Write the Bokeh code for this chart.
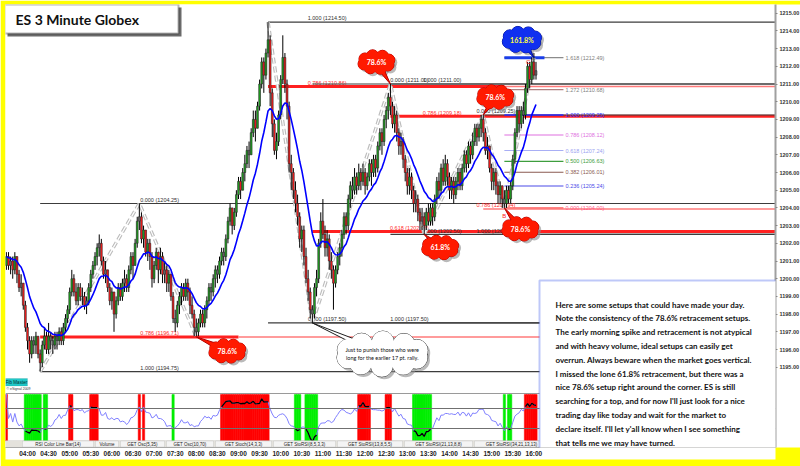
import numpy as np
from bokeh.plotting import figure
from bokeh.models import (Range1d, LinearAxis, FixedTicker, NumeralTickFormatter,
                          Label, BoxAnnotation, Span)
from bokeh.core.properties import value
from bokeh.embed import file_html
from bokeh.resources import INLINE

# ------------------------------------------------------------------ data
# ES 3-minute bars, 03:30 .. 16:03 (bar 0 = 03:30); open = previous close
first_open = 1200.75
closes = [
    1201.25, 1200.75, 1201.0, 1200.5, 1201.25, 1200.25, 1199.5, 1199.75, 1198.5, 1197.25,
    1196.5, 1195.75, 1196.5, 1196.25, 1196.75, 1195.75, 1195.25, 1196.25, 1196.75, 1196.0,
    1196.75, 1196.5, 1196.25, 1196.75, 1196.5, 1197.0, 1196.5, 1197.25, 1197.75, 1198.25,
    1199.25, 1200.0, 1199.25, 1198.75, 1199.5, 1199.0, 1199.0, 1198.5, 1198.75, 1199.5,
    1200.25, 1200.75, 1201.25, 1201.75, 1202.0, 1201.0, 1200.25, 1200.5, 1199.5, 1198.75,
    1199.25, 1198.0, 1198.75, 1199.5, 1199.0, 1199.75, 1200.0, 1199.5, 1200.5, 1201.25,
    1200.75, 1202.0, 1203.25, 1203.5, 1202.25, 1202.75, 1201.5, 1202.0, 1201.25, 1200.0,
    1200.75, 1201.5, 1200.5, 1201.25, 1200.25, 1200.5, 1199.75, 1200.25, 1199.0, 1197.75,
    1197.5, 1198.5, 1199.0, 1199.5, 1199.0, 1199.75, 1199.25, 1198.5, 1198.0, 1197.25,
    1197.0, 1197.5, 1198.0, 1197.5, 1198.25, 1198.75, 1199.5, 1199.25, 1200.0, 1200.5,
    1200.25, 1201.0, 1201.5, 1201.25, 1202.25, 1203.25, 1204.0, 1203.0, 1203.75, 1204.75,
    1205.5, 1205.0, 1206.0, 1206.5, 1207.25, 1207.0, 1208.25, 1209.0, 1208.5, 1209.75,
    1211.0, 1212.25, 1211.5, 1212.75, 1213.5, 1210.5, 1208.75, 1207.25, 1207.75, 1209.25,
    1211.25, 1212.5, 1211.0, 1209.75, 1206.5, 1206.0, 1205.0, 1204.25, 1203.5, 1202.25,
    1202.75, 1201.25, 1200.0, 1199.25, 1198.25, 1198.0, 1199.5, 1200.0, 1202.0, 1203.25,
    1202.5, 1201.75, 1202.25, 1201.0, 1200.5, 1199.75, 1200.5, 1201.25, 1201.75, 1202.5,
    1203.5, 1203.0, 1204.5, 1205.25, 1205.0, 1205.75, 1205.25, 1206.0, 1205.5, 1206.0,
    1205.25, 1205.75, 1206.5, 1206.0, 1206.75, 1206.25, 1207.5, 1208.25, 1207.75, 1209.0,
    1209.5, 1210.25, 1209.75, 1208.75, 1209.25, 1208.25, 1207.5, 1207.75, 1206.75, 1206.0,
    1205.25, 1205.75, 1205.0, 1204.25, 1204.5, 1203.75, 1203.25, 1203.5, 1203.0, 1203.75,
    1203.25, 1204.0, 1203.5, 1204.5, 1205.5, 1205.0, 1206.25, 1205.5, 1206.5, 1205.75,
    1205.0, 1205.5, 1204.75, 1205.5, 1206.0, 1205.25, 1206.25, 1207.0, 1206.5, 1207.5,
    1207.0, 1207.75, 1208.5, 1208.0, 1208.5, 1209.0, 1208.25, 1207.25, 1207.5, 1206.25,
    1205.5, 1206.0, 1205.25, 1204.75, 1205.25, 1204.5, 1204.25, 1205.0, 1204.5, 1205.25,
    1206.75, 1208.25, 1209.5, 1208.75, 1209.5, 1209.25, 1210.75, 1212.0, 1211.25, 1212.25,
    1211.5, 1211.75,
]
highs = [
    1201.5, 1201.5, 1201.25, 1201.25, 1201.5, 1201.25, 1200.5, 1200.25, 1199.75, 1198.75,
    1197.5, 1196.75, 1196.75, 1196.75, 1197.0, 1196.75, 1196.0, 1196.5, 1197.25, 1197.0,
    1197.5, 1197.0, 1196.75, 1197.0, 1197.0, 1197.25, 1197.25, 1197.5, 1198.0, 1198.5,
    1199.5, 1200.5, 1200.25, 1199.75, 1199.75, 1199.75, 1199.5, 1199.25, 1199.0, 1199.75,
    1200.5, 1201.0, 1201.5, 1202.0, 1202.5, 1202.25, 1201.25, 1201.0, 1200.5, 1199.75,
    1199.5, 1199.25, 1199.0, 1199.75, 1199.75, 1200.0, 1200.5, 1200.25, 1200.75, 1201.5,
    1201.5, 1202.25, 1203.5, 1204.25, 1203.75, 1203.0, 1202.75, 1202.25, 1202.25, 1201.5,
    1201.0, 1201.75, 1201.5, 1201.75, 1201.5, 1201.0, 1200.75, 1200.5, 1200.25, 1199.25,
    1198.25, 1198.75, 1199.25, 1199.75, 1199.75, 1200.0, 1200.0, 1199.5, 1199.0, 1198.25,
    1197.75, 1197.75, 1198.25, 1198.25, 1198.5, 1199.0, 1199.75, 1199.75, 1200.25, 1200.75,
    1200.75, 1201.25, 1201.75, 1201.75, 1202.5, 1203.5, 1204.25, 1204.0, 1204.0, 1205.0,
    1205.75, 1205.75, 1206.25, 1207.0, 1207.5, 1207.75, 1208.5, 1209.5, 1209.5, 1210.0,
    1211.25, 1212.5, 1212.5, 1213.0, 1214.5, 1213.75, 1210.75, 1209.0, 1208.25, 1209.5,
    1211.5, 1213.75, 1212.75, 1211.25, 1210.0, 1207.0, 1206.25, 1205.5, 1204.75, 1203.75,
    1203.0, 1203.0, 1201.75, 1200.5, 1199.5, 1198.5, 1199.75, 1200.5, 1202.25, 1203.75,
    1204.5, 1203.0, 1202.75, 1202.5, 1201.5, 1200.75, 1200.75, 1201.5, 1202.0, 1202.75,
    1203.75, 1203.75, 1204.75, 1205.5, 1205.75, 1206.25, 1206.0, 1206.5, 1206.25, 1206.5,
    1206.25, 1206.0, 1206.75, 1206.75, 1207.0, 1207.0, 1207.75, 1208.5, 1208.5, 1209.25,
    1209.75, 1210.5, 1211.0, 1210.0, 1209.75, 1209.5, 1208.5, 1208.25, 1208.0, 1207.0,
    1206.25, 1206.25, 1206.0, 1205.25, 1205.0, 1204.75, 1204.0, 1204.0, 1203.75, 1204.0,
    1204.25, 1204.25, 1204.25, 1204.75, 1205.75, 1206.0, 1206.5, 1206.75, 1207.0, 1206.75,
    1206.0, 1205.75, 1205.75, 1205.75, 1206.25, 1206.25, 1206.5, 1207.25, 1207.25, 1207.75,
    1207.75, 1208.25, 1208.75, 1208.75, 1208.75, 1209.25, 1209.25, 1208.5, 1208.0, 1207.5,
    1206.5, 1206.25, 1206.25, 1205.5, 1205.5, 1205.25, 1205.0, 1205.25, 1205.25, 1205.5,
    1207.0, 1208.5, 1209.75, 1209.75, 1209.75, 1210.0, 1211.0, 1212.25, 1212.25, 1212.5,
    1212.75, 1212.25,
]
lows = [
    1200.5, 1200.5, 1200.25, 1200.0, 1200.25, 1199.75, 1199.25, 1199.0, 1198.25, 1197.0,
    1196.0, 1195.25, 1195.5, 1195.75, 1195.75, 1195.5, 1194.75, 1195.0, 1196.0, 1195.75,
    1195.75, 1196.0, 1195.75, 1196.0, 1196.0, 1196.25, 1196.25, 1196.25, 1197.0, 1197.5,
    1198.0, 1199.0, 1199.0, 1198.5, 1198.5, 1198.75, 1198.5, 1198.25, 1198.0, 1198.5,
    1199.25, 1200.0, 1200.5, 1200.75, 1201.25, 1200.75, 1200.0, 1199.75, 1199.25, 1198.5,
    1198.25, 1197.0, 1197.75, 1198.5, 1198.75, 1198.75, 1199.25, 1199.25, 1199.25, 1200.25,
    1200.0, 1200.75, 1201.75, 1202.75, 1202.0, 1201.75, 1201.25, 1201.0, 1200.5, 1199.5,
    1199.75, 1200.5, 1199.75, 1200.25, 1199.75, 1199.75, 1199.25, 1199.25, 1198.75, 1197.5,
    1197.0, 1197.25, 1198.0, 1198.5, 1198.75, 1198.75, 1198.75, 1198.0, 1197.75, 1196.75,
    1196.75, 1196.75, 1197.25, 1197.25, 1197.25, 1197.75, 1198.5, 1198.75, 1199.0, 1199.5,
    1199.75, 1200.0, 1200.75, 1200.75, 1201.0, 1202.0, 1203.0, 1202.5, 1202.75, 1203.5,
    1204.5, 1204.5, 1205.0, 1205.5, 1206.25, 1206.25, 1207.0, 1208.0, 1207.75, 1208.5,
    1209.5, 1210.75, 1210.5, 1211.25, 1212.5, 1209.75, 1208.0, 1207.0, 1206.75, 1207.5,
    1209.0, 1211.0, 1210.5, 1209.0, 1206.0, 1205.0, 1204.5, 1203.75, 1203.0, 1201.75,
    1201.5, 1200.75, 1199.75, 1198.75, 1197.75, 1197.5, 1197.75, 1199.0, 1199.75, 1201.75,
    1202.25, 1201.25, 1201.25, 1200.5, 1200.0, 1198.25, 1199.5, 1200.25, 1200.75, 1201.25,
    1202.25, 1202.5, 1202.75, 1204.0, 1204.5, 1204.75, 1204.75, 1205.0, 1205.0, 1205.25,
    1204.75, 1205.0, 1205.5, 1205.25, 1205.75, 1205.75, 1206.0, 1207.25, 1207.0, 1207.5,
    1208.5, 1209.0, 1209.25, 1208.5, 1208.25, 1207.75, 1207.0, 1207.0, 1206.25, 1205.5,
    1204.75, 1204.75, 1204.5, 1203.75, 1203.75, 1203.25, 1202.75, 1202.75, 1202.5, 1202.75,
    1203.0, 1203.0, 1203.0, 1203.25, 1204.25, 1204.5, 1204.75, 1205.25, 1205.25, 1205.25,
    1204.5, 1204.5, 1204.25, 1204.5, 1205.0, 1205.0, 1205.0, 1206.0, 1206.0, 1206.25,
    1206.5, 1206.75, 1207.5, 1207.5, 1207.75, 1208.0, 1207.75, 1207.0, 1206.75, 1206.0,
    1205.0, 1205.0, 1204.75, 1204.25, 1204.25, 1204.0, 1204.0, 1204.0, 1204.25, 1204.25,
    1205.0, 1206.5, 1208.0, 1208.25, 1208.5, 1208.75, 1209.0, 1210.5, 1210.75, 1211.0,
    1211.25, 1211.25,
]
assert len(closes) == len(highs) == len(lows) == 252

time_ticks = [10, 20, 30, 40, 50, 60, 70, 80, 90, 100, 110, 120, 130,
              140, 150, 160, 170, 180, 190, 200, 210, 220, 230, 240, 250]
time_labels = ["04:00", "04:30", "05:00", "05:30", "06:00", "06:30", "07:00",
               "07:30", "08:00", "08:30", "09:00", "09:30", "10:00", "10:30",
               "11:00", "11:30", "12:00", "12:30", "13:00", "13:30", "14:00",
               "14:30", "15:00", "15:30", "16:00"]
price_ticks = [1195, 1196, 1197, 1198, 1199, 1200, 1201, 1202, 1203, 1204,
               1205, 1206, 1207, 1208, 1209, 1210, 1211, 1212, 1213, 1214, 1215]

# swing points joined by the pattern lines (bar, price)
swing_a_bars = [16, 63, 90]
swing_a_prices = [1194.75, 1204.25, 1196.71]
swing_b_bars = [124, 145, 182, 198, 226, 236, 250]
swing_b_prices = [1214.50, 1197.50, 1211.00, 1202.50, 1209.25, 1204.00, 1212.49]

# retracement tools: start bar and (ratio, price) levels
fib1_start, fib1_levels = 16, [(0.000, 1204.25), (0.786, 1196.71), (1.000, 1194.75)]
fib2_start, fib2_levels = 124, [(1.000, 1214.50), (0.786, 1210.86), (0.000, 1197.50)]
fib3_start, fib3_levels = 145, [(0.000, 1211.00), (0.618, 1202.66), (1.000, 1197.50)]
fib4_start, fib4_levels = 182, [(1.000, 1211.00), (0.786, 1209.18), (0.000, 1202.50)]
fib5_start, fib5_levels = 226, [(0.000, 1209.25), (0.786, 1203.94), (1.000, 1202.50)]
# extension of the 1204.00 -> 1209.25 swing
ext_start, ext_end = 236, 264
ext_levels = [(1.618, 1212.49), (1.272, 1210.68), (1.000, 1209.25), (0.786, 1208.12),
              (0.618, 1207.24), (0.500, 1206.63), (0.382, 1206.01), (0.236, 1205.24),
              (0.000, 1204.00)]

aux_marker = 1203.75

note_lines = [
    "Here are some setups that could have made your day.",
    "Note the consistency of the 78.6% retracement setups.",
    "The early morning spike and retracement is not atypical",
    "and with heavy volume, ideal setups can easily get",
    "overrun. Always beware when the market goes vertical.",
    "I missed the lone 61.8% retracement, but there was a",
    "nice 78.6% setup right around the corner. ES is still",
    "searching for a top, and for now I'll just look for a nice",
    "trading day like today and wait for the market to",
    "declare itself. I'll let y'all know when I see something",
    "that tells me we may have turned.",
]
tab_names = ["RSI Color Line Bar(14)", "Volume", "GET Osc(5,35)", "GET Osc(10,70)",
             "GET Stoch(14,3,3)", "GET StoRSI(8,5,3,3)", "GET StoRSI(13,8,5,5)",
             "GET StoRSI(21,13,8,8)", "GET StoRSI(34,21,13,13)"]

# ------------------------------------------------------------------ indicators
c = np.array(closes)
o = np.array([first_open] + closes[:-1])
h = np.maximum(np.array(highs), np.maximum(o, c))
l = np.minimum(np.array(lows), np.minimum(o, c))
idx = np.arange(len(c))

# 14-bar exponential average of the closes
ema = np.empty_like(c)
alpha = 2.0 / 15.0
ema[0] = c[0]
for i in range(1, len(c)):
    ema[i] = ema[i - 1] + alpha * (c[i] - ema[i - 1])

# 14-bar RSI on simple sums of gains and losses
d = np.diff(c, prepend=first_open)
gain, loss = np.clip(d, 0, None), np.clip(-d, 0, None)
rsi = np.empty_like(c)
for i in range(len(c)):
    lo_i = max(0, i - 13)
    g, s = gain[lo_i:i + 1].sum(), loss[lo_i:i + 1].sum()
    rsi[i] = 50.0 if g + s == 0 else 100.0 * g / (g + s)

# ------------------------------------------------------------------ layout
FRAME_L, FRAME_T, FRAME_W, FRAME_H = 5, 4, 770, 443
BAR_PX, FIRST_BAR_PX = 2.11, 5.9
PRICE_PX, PRICE_REF, PRICE_REF_PX = 17.7, 1215.0, 12.7
RSI_PX, RSI_REF, RSI_REF_PX = 0.5, 70.0, 408.0

x_lo = -(FIRST_BAR_PX - FRAME_L) / BAR_PX
x_hi = x_lo + FRAME_W / BAR_PX
p_hi = PRICE_REF + (PRICE_REF_PX - FRAME_T) / PRICE_PX
p_lo = p_hi - FRAME_H / PRICE_PX
r_hi = RSI_REF + (RSI_REF_PX - FRAME_T) / RSI_PX
r_lo = r_hi - FRAME_H / RSI_PX


def sx(px):
    return x_lo + (px - FRAME_L) / BAR_PX


def sy(py):
    return p_hi - (py - FRAME_T) / PRICE_PX


p = figure(frame_width=FRAME_W, frame_height=FRAME_H,
           x_range=Range1d(x_lo, x_hi), y_range=Range1d(p_lo, p_hi),
           x_axis_location=None, y_axis_location=None,
           output_backend="svg", toolbar_location=None,
           min_border_left=FRAME_L, min_border_top=FRAME_T,
           min_border_right=25, min_border_bottom=19)
p.extra_y_ranges = {"rsi": Range1d(r_lo, r_hi)}
p.background_fill_color = "white"
p.border_fill_color = "#ffff00"
p.outline_line_color = None
p.grid.visible = False

# axes
yax = LinearAxis(ticker=FixedTicker(ticks=price_ticks),
                 formatter=NumeralTickFormatter(format="0.00"))
yax.major_label_text_font = "Liberation Sans"
yax.major_label_text_font_size = "5.5px"
yax.major_label_text_font_style = "bold"
yax.major_label_text_color = "#333333"
yax.major_label_standoff = 2
yax.major_tick_out = 2
yax.major_tick_in = 0
yax.minor_tick_out = 0
yax.major_tick_line_color = "#888888"
yax.axis_line_color = "#a0a0a0"
yax.axis_line_width = 2
yax.background_fill_color = "white"
p.add_layout(yax, "right")

xax = LinearAxis(ticker=FixedTicker(ticks=time_ticks),
                 major_label_overrides={t: s for t, s in zip(time_ticks, time_labels)})
xax.major_label_text_font = "Liberation Sans"
xax.major_label_text_font_size = "6.5px"
xax.major_label_text_font_style = "bold"
xax.major_label_text_color = "#222222"
xax.major_label_standoff = 2
xax.major_tick_out = 0
xax.major_tick_in = 0
xax.minor_tick_out = 0
xax.axis_line_color = "#9a9a9a"
xax.background_fill_color = "white"
p.add_layout(xax, "below")

# ------------------------------------------------------------------ fib tools
FONT_SMALL = value("Liberation Sans")
GREY_LINE, RED_THICK, RED_THIN = "#3c3c3c", "#ff2020", "#ff7a7a"


def fib_text(ratio, price):
    return f"{ratio:.3f} ({price:.2f})"


def draw_tool(start, levels, label_bar, thick_until=None, red_thick=True):
    for ratio, price in levels:
        red = ratio in (0.618, 0.786)
        if red:
            if red_thick:
                stop = x_hi if thick_until is None else thick_until
                p.segment([start], [price], [stop], [price], line_color=RED_THICK,
                          line_width=3)
                if thick_until is not None:
                    p.segment([thick_until], [price], [x_hi], [price],
                              line_color=RED_THIN, line_width=1.5)
            else:
                p.segment([start], [price], [x_hi], [price], line_color=RED_THIN,
                          line_width=1.5)
        else:
            p.segment([start], [price], [x_hi], [price], line_color=GREY_LINE,
                      line_width=1.2)
        p.text([label_bar], [price + 0.6 / PRICE_PX], text=[fib_text(ratio, price)],
               text_font=FONT_SMALL, text_font_size="5.5px",
               text_color="#ff2a2a" if red else "#303030",
               text_align="center", text_baseline="bottom")


draw_tool(fib1_start, fib1_levels, 72.6, thick_until=110)
draw_tool(fib2_start, fib2_levels, 152, thick_until=236)
draw_tool(fib3_start, fib3_levels, 191)
draw_tool(fib4_start, fib4_levels, 206.5)
draw_tool(fib5_start, fib5_levels, 232, red_thick=False)

ext_colors = ["#8c8c8c", "#b08080", "#2a2aff", "#e070e0", "#a8aef5",
              "#3e9e3e", "#8a5a50", "#4a4ae8", "#ff5a5a"]
ext_text_colors = ["#808080", "#808080", "#2a2aff", "#e070e0", "#9aa2f0",
                   "#3e9e3e", "#8a5a50", "#4a4ae8", "#ff5a8a"]
for (ratio, price), lc, tc in zip(ext_levels, ext_colors, ext_text_colors):
    p.segment([ext_start], [price], [ext_end], [price], line_color=lc,
              line_width=1.5 if ratio == 1.0 else 1.1)
    p.text([ext_end + 1], [price], text=[fib_text(ratio, price)], text_font=FONT_SMALL,
           text_font_size="5.5px", text_color=tc, text_align="left",
           text_baseline="middle")
# highlighted 161.8% target
p.segment([ext_start], [ext_levels[0][1]], [255], [ext_levels[0][1]],
          line_color="#1a3ee8", line_width=3)

# ------------------------------------------------------------------ pattern lines
for bx, by in ((swing_a_bars, swing_a_prices), (swing_b_bars, swing_b_prices)):
    p.line(bx, by, line_color="#bcbcbc", line_width=3.5, line_dash="6 3")
    p.line(bx, by, line_color="white", line_width=1.2, line_dash="6 3")

# ------------------------------------------------------------------ candles
green, red, grey = "#1fa51f", "#ff1a1a", "#6e6e6e"
colors = np.where(c - o > 0.25, green, np.where(o - c > 0.25, red, grey))
p.segment(idx, l, idx, h, line_color="black", line_width=1)
p.vbar(x=idx, width=0.85, top=np.maximum(o, c), bottom=np.minimum(o, c),
       fill_color=colors, line_color="#262626", line_width=0.6)
p.line(idx, ema, line_color="#0000ff", line_width=1.6)

p.text([236], [1204.0 - 5 / PRICE_PX], text=["B"], text_font=FONT_SMALL,
       text_font_size="6px", text_color="#ff2020", text_align="center",
       text_baseline="top")
p.text([247.3], [1212.0 + 1 / PRICE_PX], text=["C"], text_font=FONT_SMALL,
       text_font_size="6px", text_color="#ff2020", text_align="center",
       text_baseline="bottom")

# ------------------------------------------------------------------ callouts


def callout(tip_x, tip_y, off_x, off_y, w, hgt, n, fill, edge, lines, text_color,
            font_px, bold=True):
    cx = tip_x + off_x / BAR_PX
    cy = tip_y - off_y / PRICE_PX
    ang = np.linspace(0, 2 * np.pi, n, endpoint=False) + 0.3
    ex = np.concatenate([[cx], cx + np.cos(ang) * w * 0.36 / BAR_PX])
    ey = np.concatenate([[cy], cy + np.sin(ang) * hgt * 0.27 / PRICE_PX])
    dd = hgt * 0.5
    ew = [w * 0.75] + [dd] * n
    eh = [hgt * 0.62] + [dd] * n
    p.ellipse(ex + 2.5 / BAR_PX, ey - 2.5 / PRICE_PX, width=ew, height=eh,
              width_units="screen", height_units="screen",
              fill_color="#8c8c8c", fill_alpha=0.6, line_color=None)
    p.ellipse(ex, ey, width=ew, height=eh, width_units="screen", height_units="screen",
              fill_color=fill, line_color=edge, line_width=1)
    ln = np.hypot(off_x, off_y)
    nx, ny = -off_y / ln, off_x / ln
    pts = [(0.0, 0.0), (off_x + nx * 4, off_y + ny * 4), (off_x - nx * 4, off_y - ny * 4)]
    p.patch([tip_x + a / BAR_PX for a, _ in pts], [tip_y - b / PRICE_PX for _, b in pts],
            fill_color=fill, line_color=edge, line_width=1)
    p.ellipse(ex, ey, width=ew, height=eh, width_units="screen", height_units="screen",
              fill_color=fill, line_color=None)
    k = len(lines)
    for j, txt in enumerate(lines):
        dy = (j - (k - 1) / 2) * (font_px + 3)
        p.text([cx], [cy - dy / PRICE_PX], text=[txt], text_font=value("Lato"),
               text_font_size=f"{font_px}px", text_font_style="bold" if bold else "normal",
               text_color=text_color, text_align="center", text_baseline="middle")


RED_FILL, RED_EDGE = "#ff1a00", "#b00000"
callout(90, 1196.71, 31, 14, 36, 24, 8, RED_FILL, RED_EDGE, ["78.6%"], "white", 7)
callout(182, 1211.00, -14, -22, 36, 24, 8, RED_FILL, RED_EDGE, ["78.6%"], "white", 7)
callout(226, 1209.25, 12, -18, 36, 24, 8, RED_FILL, RED_EDGE, ["78.6%"], "white", 7)
callout(198, 1202.50, 16, 13, 36, 24, 8, RED_FILL, RED_EDGE, ["61.8%"], "white", 7)
callout(236, 1204.00, 16, 21, 36, 24, 8, RED_FILL, RED_EDGE, ["78.6%"], "white", 7)
callout(250, 1212.49, -12, -18, 38, 26, 8, "#1030f0", "#001090", ["161.8%"], "#ffff40", 7)
callout(145, 1197.50, 70, 31, 100, 44, 10, "white", "#202020",
        ["Just to punish those who were", "long for the earlier 17 pt. rally."],
        "#111111", 5.5, bold=False)

# ------------------------------------------------------------------ RSI panel
for lvl, col in ((100, "#9a9a9a"), (70, "#707070"), (30, "#707070")):
    p.add_layout(Span(location=lvl, dimension="width", y_range_name="rsi",
                      line_color=col, line_width=1))
hot = rsi > 70
cold = rsi < 30
p.vbar(x=idx[hot], width=1.08, top=98, bottom=5, fill_color="#ff0000",
       line_color="#ff0000", line_width=0.5, y_range_name="rsi")
p.vbar(x=idx[cold], width=1.08, top=98, bottom=5, fill_color="#00ee00",
       line_color="#00ee00", line_width=0.5, y_range_name="rsi")
p.line(idx, rsi, line_color="#7f7fff", line_width=1, y_range_name="rsi")
p.line(idx, np.where(hot | cold, rsi, np.nan), line_color="black", line_width=1.3,
       y_range_name="rsi")

# tab strip under the indicator pane
p.add_layout(BoxAnnotation(left=sx(5), right=sx(775), top=sy(440), bottom=sy(447),
                           fill_color="#e4e2dc", fill_alpha=1, line_color="#9a9a9a",
                           line_width=0.5))
tab_x = 22
for name in tab_names:
    wpx = 3.0 * len(name) + 5
    p.add_layout(BoxAnnotation(left=sx(tab_x), right=sx(tab_x + wpx), top=sy(440.5),
                               bottom=sy(446.5), fill_color="#f4f4f4", fill_alpha=1,
                               line_color="#808080", line_width=0.5))
    p.add_layout(Label(x=sx(tab_x + wpx / 2), y=sy(443.7), text=name,
                       text_font="Liberation Sans", text_font_size="4.5px",
                       text_color="#222222", text_align="center",
                       text_baseline="middle"))
    tab_x += wpx + 2

# Fib Master button and copyright
p.add_layout(BoxAnnotation(left=sx(5), right=sx(27), top=sy(378), bottom=sy(385.5),
                           fill_color="#20c8c8", fill_alpha=1, line_color="#107070",
                           line_width=0.5))
p.add_layout(Label(x=sx(16), y=sy(381.8), text="Fib Master", text_font="Liberation Sans",
                   text_font_size="4.5px", text_color="#003030", text_align="center",
                   text_baseline="middle"))
p.add_layout(Label(x=sx(6), y=sy(388.5), text="\u00a9 eSignal 2009",
                   text_font="Liberation Sans", text_font_size="3.5px",
                   text_color="#333333", text_baseline="middle"))

# ------------------------------------------------------------------ price markers
last_close = closes[-1]
ema_last = round(ema[-1] * 4) / 4
for val, bg, fg in ((last_close, "#ff0000", "white"), (ema_last, "#1030ff", "white"),
                    (aux_marker, "#c8c8c8", "#444444")):
    p.add_layout(Label(x=sx(776), y=val, text=f"{val:.2f}", text_font="Liberation Sans",
                       text_font_size="5.5px", text_font_style="bold", text_color=fg,
                       background_fill_color=bg, text_baseline="middle"))

# ------------------------------------------------------------------ title
p.add_layout(BoxAnnotation(left=sx(7), right=sx(181), top=sy(7), bottom=sy(36),
                           fill_color="#505050", fill_alpha=0.85, line_color=None))
p.add_layout(BoxAnnotation(left=sx(4), right=sx(178), top=sy(4), bottom=sy(33),
                           fill_color="white", fill_alpha=1, line_color="#111111",
                           line_width=2))
p.add_layout(Label(x=sx(15), y=sy(19), text="ES 3 Minute Globex", text_font="Lato",
                   text_font_size="14px", text_font_style="bold", text_color="#111111",
                   text_baseline="middle"))

# ------------------------------------------------------------------ note box
p.add_layout(BoxAnnotation(left=sx(539), right=sx(793), top=sy(280), bottom=sy(460),
                           fill_color="white", fill_alpha=1, line_color="#2848e8",
                           line_width=2))
for j, line in enumerate(note_lines):
    p.add_layout(Label(x=sx(555), y=sy(304 + j * 13.8), text=line, text_font="Lato",
                       text_font_size="8px", text_font_style="bold",
                       text_color="#111111", text_baseline="middle"))

open("out.html", "w").write(file_html(p, INLINE))
